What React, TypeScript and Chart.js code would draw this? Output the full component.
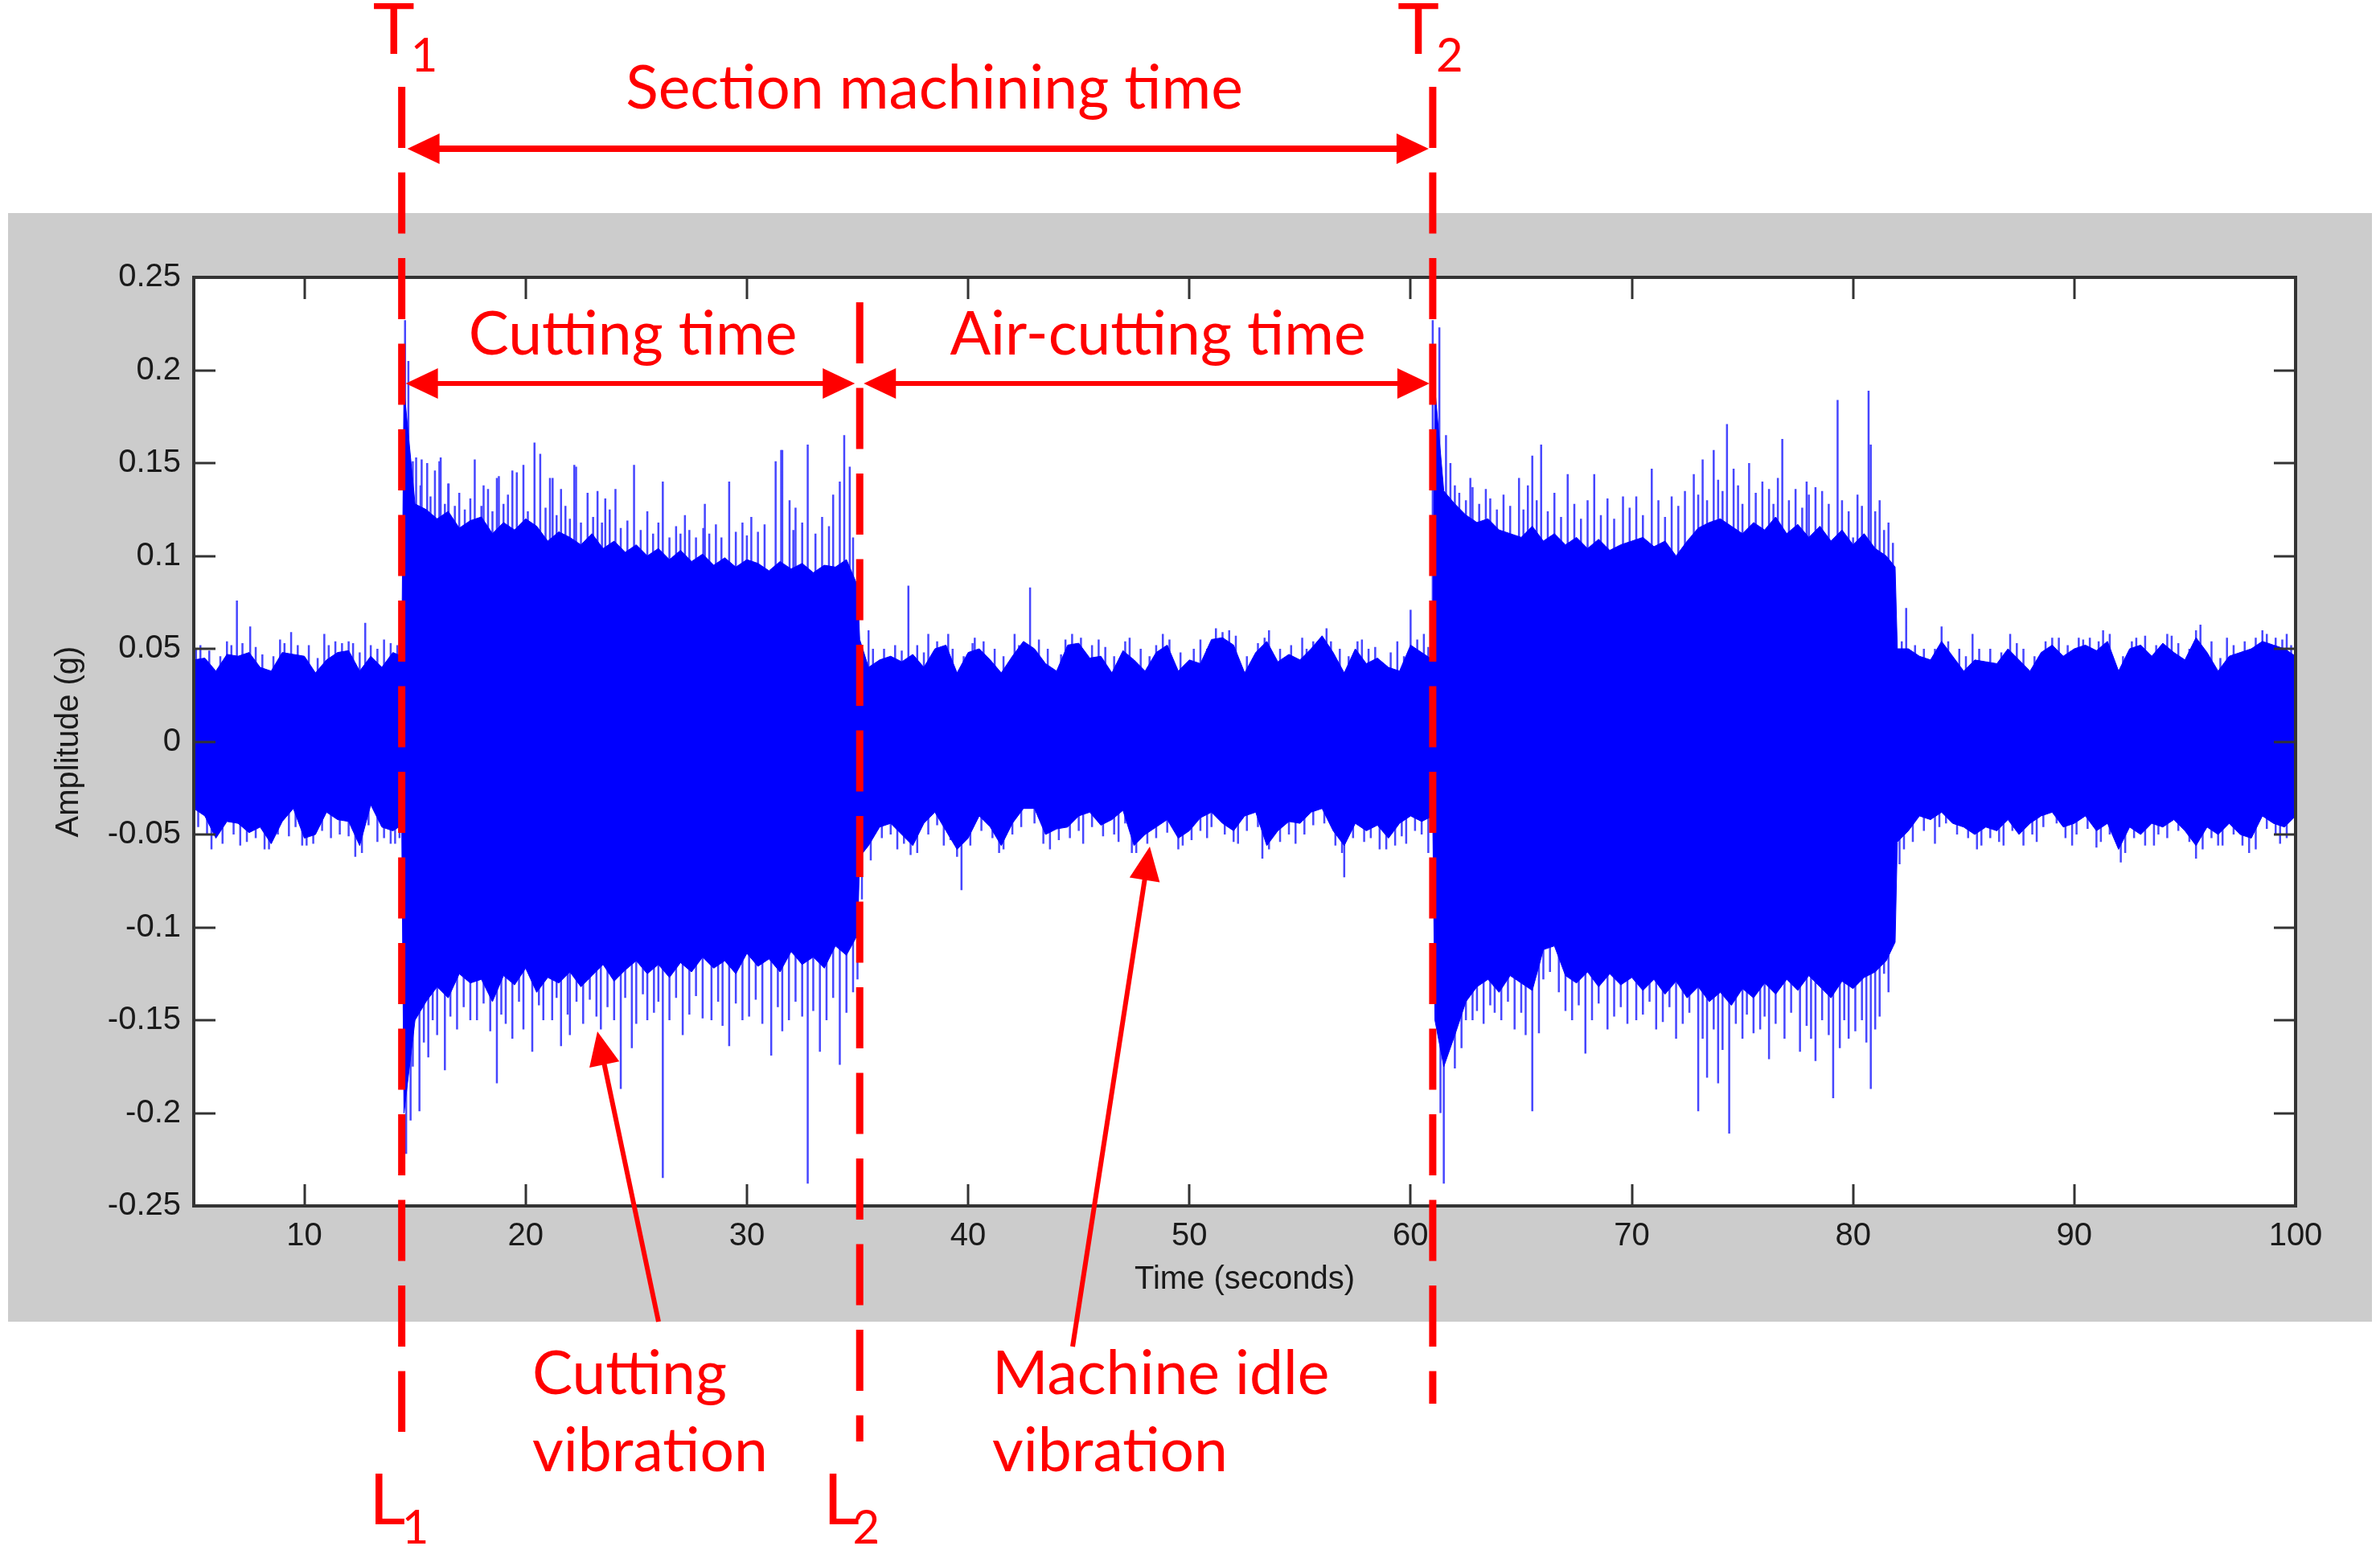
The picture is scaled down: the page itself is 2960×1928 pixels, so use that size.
import React, { useEffect, useRef } from "react";
import { Chart, registerables } from "chart.js";

Chart.register(...registerables);

// ---------- axis ticks ----------
const xTickValues = [10, 20, 30, 40, 50, 60, 70, 80, 90, 100];
const xTickLabels = ["10", "20", "30", "40", "50", "60", "70", "80", "90", "100"];
const yTickValues = [-0.25, -0.2, -0.15, -0.1, -0.05, 0, 0.05, 0.1, 0.15, 0.2, 0.25];
const yTickLabels = ["-0.25", "-0.2", "-0.15", "-0.1", "-0.05", "0", "0.05", "0.1", "0.15", "0.2", "0.25"];

// ---------- vibration signal: dense core envelope (seconds, g) ----------
const coreTimes = [
  5, 5.5, 6, 6.5, 7, 7.5, 8, 8.5, 9, 9.5, 10, 10.5, 11, 11.5, 12, 12.5, 13, 13.5, 14, 14.4,
  14.5, 15, 15.5, 16, 16.5, 17, 17.5, 18, 18.5, 19, 19.5, 20, 20.5, 21, 21.5, 22, 22.5, 23, 23.5, 24,
  24.5, 25, 25.5, 26, 26.5, 27, 27.5, 28, 28.5, 29, 29.5, 30, 30.5, 31, 31.5, 32, 32.5, 33, 33.5, 34,
  34.5, 35,
  35.1, 35.5, 36, 36.5, 37, 37.5, 38, 38.5, 39, 39.5, 40, 40.5, 41, 41.5, 42, 42.5, 43, 43.5, 44, 44.5,
  45, 45.5, 46, 46.5, 47, 47.5, 48, 48.5, 49, 49.5, 50, 50.5, 51, 51.5, 52, 52.5, 53, 53.5, 54, 54.5,
  55, 55.5, 56, 56.5, 57, 57.5, 58, 58.5, 59, 59.5, 60, 60.5, 61,
  61.1, 61.5, 62, 62.5, 63, 63.5, 64, 64.5, 65, 65.5, 66, 66.5, 67, 67.5, 68, 68.5, 69, 69.5, 70, 70.5,
  71, 71.5, 72, 72.5, 73, 73.5, 74, 74.5, 75, 75.5, 76, 76.5, 77, 77.5, 78, 78.5, 79, 79.5, 80, 80.5,
  81, 81.5, 81.9,
  82, 82.5, 83, 83.5, 84, 84.5, 85, 85.5, 86, 86.5, 87, 87.5, 88, 88.5, 89, 89.5, 90, 90.5, 91, 91.5,
  92, 92.5, 93, 93.5, 94, 94.5, 95, 95.5, 96, 96.5, 97, 97.5, 98, 98.5, 99, 99.5, 100,
];
const coreUpper = [
  0.044, 0.045, 0.038, 0.047, 0.046, 0.048, 0.040, 0.038, 0.048, 0.047, 0.046, 0.037, 0.044, 0.048, 0.049, 0.038, 0.046, 0.040, 0.048, 0.046,
  0.190, 0.128, 0.125, 0.120, 0.124, 0.115, 0.119, 0.121, 0.112, 0.118, 0.114, 0.120, 0.116, 0.108, 0.113, 0.110, 0.106, 0.112, 0.104, 0.108,
  0.102, 0.106, 0.100, 0.104, 0.098, 0.103, 0.097, 0.101, 0.095, 0.099, 0.094, 0.098, 0.096, 0.092, 0.097, 0.093, 0.096, 0.091, 0.095, 0.094,
  0.098, 0.084,
  0.055, 0.040, 0.044, 0.046, 0.043, 0.047, 0.040, 0.050, 0.052, 0.037, 0.048, 0.050, 0.044, 0.037, 0.046, 0.054, 0.050, 0.042, 0.038, 0.052,
  0.053, 0.045, 0.046, 0.037, 0.049, 0.044, 0.038, 0.048, 0.052, 0.038, 0.044, 0.042, 0.055, 0.056, 0.052, 0.037, 0.048, 0.054, 0.043, 0.047,
  0.044, 0.050, 0.057, 0.048, 0.037, 0.050, 0.042, 0.045, 0.040, 0.038, 0.052, 0.048, 0.044,
  0.190, 0.135, 0.128, 0.122, 0.118, 0.120, 0.114, 0.112, 0.110, 0.116, 0.108, 0.112, 0.106, 0.110, 0.104, 0.109, 0.103, 0.106, 0.108, 0.110,
  0.105, 0.108, 0.100, 0.108, 0.115, 0.118, 0.120, 0.116, 0.112, 0.118, 0.114, 0.121, 0.112, 0.117, 0.110, 0.116, 0.108, 0.114, 0.106, 0.112,
  0.104, 0.100, 0.094,
  0.050, 0.050, 0.046, 0.044, 0.054, 0.046, 0.038, 0.044, 0.043, 0.042, 0.050, 0.044, 0.038, 0.048, 0.052, 0.046, 0.050, 0.052, 0.049, 0.054,
  0.038, 0.050, 0.052, 0.046, 0.053, 0.048, 0.044, 0.056, 0.048, 0.038, 0.046, 0.048, 0.050, 0.054, 0.052, 0.050, 0.046,
];
const coreLower = [
  -0.036, -0.040, -0.052, -0.043, -0.044, -0.049, -0.046, -0.055, -0.043, -0.036, -0.052, -0.050, -0.038, -0.042, -0.043, -0.056, -0.034, -0.046, -0.048, -0.045,
  -0.200, -0.150, -0.140, -0.132, -0.138, -0.125, -0.130, -0.128, -0.140, -0.126, -0.131, -0.122, -0.135, -0.127, -0.130, -0.124, -0.132, -0.126, -0.120, -0.129,
  -0.123, -0.118, -0.125, -0.120, -0.127, -0.119, -0.124, -0.116, -0.122, -0.118, -0.125, -0.114, -0.121, -0.117, -0.124, -0.113, -0.120, -0.116, -0.122, -0.110,
  -0.115, -0.104,
  -0.062, -0.056, -0.046, -0.044, -0.050, -0.056, -0.044, -0.038, -0.048, -0.058, -0.052, -0.040, -0.046, -0.056, -0.044, -0.036, -0.036, -0.050, -0.047, -0.046,
  -0.040, -0.038, -0.045, -0.042, -0.037, -0.056, -0.050, -0.046, -0.042, -0.052, -0.048, -0.041, -0.038, -0.044, -0.048, -0.040, -0.038, -0.056, -0.048, -0.043,
  -0.044, -0.038, -0.036, -0.048, -0.056, -0.044, -0.048, -0.045, -0.052, -0.044, -0.040, -0.043, -0.040,
  -0.150, -0.175, -0.158, -0.140, -0.132, -0.128, -0.135, -0.126, -0.130, -0.134, -0.112, -0.110, -0.126, -0.130, -0.124, -0.132, -0.125, -0.131, -0.127, -0.134,
  -0.128, -0.136, -0.129, -0.138, -0.132, -0.140, -0.135, -0.142, -0.133, -0.138, -0.130, -0.136, -0.128, -0.134, -0.126, -0.132, -0.138, -0.129, -0.133, -0.127,
  -0.124, -0.118, -0.108,
  -0.054, -0.048, -0.040, -0.042, -0.038, -0.044, -0.046, -0.050, -0.046, -0.048, -0.042, -0.050, -0.044, -0.040, -0.038, -0.046, -0.044, -0.040, -0.048, -0.044,
  -0.058, -0.046, -0.050, -0.044, -0.046, -0.042, -0.048, -0.056, -0.046, -0.050, -0.044, -0.050, -0.052, -0.040, -0.044, -0.046, -0.040,
];

// ---------- tall individual peaks ----------
const upSpikeTimes = [
  5.3, 6.5, 6.95, 7.55, 8.9, 9.4, 10.9, 11.4, 12.2, 12.75, 13.6,
  14.55, 14.7, 14.9, 15.3, 15.55, 16.1, 16.5, 17.7, 18.1, 18.7, 19.4, 19.9, 20.4, 21.1, 21.6, 22.2, 22.8, 23.6, 24.9, 25.5, 26.2,
  27.2, 28.1, 29.2, 30.2, 31.3, 31.55, 32.2, 32.75, 33.4, 33.9, 34.4, 34.65,
  35.5, 37.3, 38.2, 39.1, 40.3, 42.1, 42.8, 44.7, 45.9, 47.3, 48.8, 50.5, 51.2, 51.8, 53.6, 55.1, 56.2, 57.8, 59.4, 60.0, 60.6,
  61.0, 61.3, 61.6, 62.2, 62.8, 63.6, 64.9, 65.5, 65.9, 67.1, 68.3, 69.6, 70.9, 71.8, 72.8, 73.2, 73.7, 74.3, 74.6, 75.3, 76.2,
  76.8, 77.9, 78.3, 79.3, 80.0, 80.7, 80.8, 81.4, 81.8,
  82.4, 84.0, 85.4, 87.1, 89.0, 90.2, 91.3, 92.8, 94.2, 95.7, 96.9, 98.5, 99.6,
];
const upSpikeValues = [
  0.052, 0.054, 0.076, 0.062, 0.055, 0.059, 0.058, 0.054, 0.053, 0.064, 0.055,
  0.227, 0.205, 0.151, 0.152, 0.150, 0.151, 0.139, 0.152, 0.138, 0.142, 0.146, 0.149, 0.161, 0.142, 0.136, 0.149, 0.134, 0.131, 0.149, 0.124, 0.140,
  0.122, 0.128, 0.140, 0.121, 0.151, 0.157, 0.126, 0.160, 0.121, 0.133, 0.165, 0.148,
  0.060, 0.084, 0.058, 0.058, 0.056, 0.058, 0.083, 0.058, 0.055, 0.056, 0.058, 0.055, 0.061, 0.060, 0.060, 0.056, 0.061, 0.055, 0.054, 0.071, 0.058,
  0.227, 0.223, 0.165, 0.134, 0.137, 0.131, 0.142, 0.154, 0.160, 0.144, 0.144, 0.132, 0.147, 0.132, 0.144, 0.152, 0.157, 0.171, 0.147, 0.150, 0.136,
  0.163, 0.140, 0.137, 0.184, 0.110, 0.189, 0.160, 0.114, 0.107,
  0.072, 0.062, 0.058, 0.058, 0.056, 0.056, 0.060, 0.056, 0.058, 0.063, 0.056, 0.060, 0.058,
];
const downSpikeTimes = [
  5.8, 7.1, 8.2, 9.9, 11.2, 12.3, 13.3, 14.1,
  14.6, 14.8, 15.2, 15.6, 16.35, 17.5, 18.7, 19.4, 20.3, 21.2, 21.6, 22.0, 23.4, 24.3, 24.8, 25.5, 26.2, 27.1, 28.4, 29.2, 30.1,
  31.1, 31.9, 32.75, 33.3, 34.2, 34.8,
  35.2, 36.8, 37.4, 38.9, 39.7, 41.6, 43.7, 45.2, 46.8, 47.6, 49.5, 50.8, 52.2, 53.3, 54.8, 56.6, 57.0, 58.6, 59.8, 60.8,
  61.35, 61.5, 62.0, 62.5, 63.8, 65.5, 65.8, 67.3, 67.9, 68.9, 70.2, 71.1, 72.0, 73.0, 73.4, 73.9, 74.4, 75.5, 76.2, 77.6, 78.3,
  79.1, 79.8, 80.8, 81.4,
  82.1, 83.7, 85.6, 86.8, 88.3, 89.9, 91.0, 92.1, 93.6, 95.5, 96.7, 97.9, 99.3,
];
const downSpikeValues = [
  -0.058, -0.056, -0.058, -0.056, -0.052, -0.062, -0.054, -0.055,
  -0.222, -0.204, -0.199, -0.170, -0.177, -0.150, -0.184, -0.160, -0.167, -0.150, -0.164, -0.158, -0.155, -0.187, -0.165, -0.150, -0.235, -0.158, -0.150, -0.164, -0.148,
  -0.169, -0.150, -0.238, -0.167, -0.174, -0.135,
  -0.085, -0.058, -0.061, -0.056, -0.080, -0.058, -0.058, -0.055, -0.054, -0.060, -0.058, -0.052, -0.055, -0.063, -0.055, -0.056, -0.073, -0.058, -0.055, -0.060,
  -0.200, -0.238, -0.176, -0.150, -0.146, -0.199, -0.157, -0.150, -0.168, -0.155, -0.150, -0.155, -0.160, -0.199, -0.181, -0.184, -0.211, -0.157, -0.171, -0.167, -0.172,
  -0.192, -0.160, -0.187, -0.125,
  -0.066, -0.055, -0.058, -0.056, -0.054, -0.056, -0.057, -0.065, -0.056, -0.063, -0.056, -0.060, -0.055,
];

// ---------- smaller peaks forming the ragged fringe [seconds, g] ----------
const fringeUp: [number, number][] = [
  [5.1, 0.050], [5.7, 0.049], [6.2, 0.046], [6.7, 0.052], [7.2, 0.053], [7.8, 0.051], [8.1, 0.047], [8.6, 0.046], [9.1, 0.053], [9.7, 0.052],
  [10.2, 0.052], [10.6, 0.045], [11.1, 0.052], [11.7, 0.053], [12.0, 0.054], [12.5, 0.048], [13.0, 0.052], [13.3, 0.050], [13.9, 0.053], [14.2, 0.052],
  [14.73, 0.145], [15.05, 0.153], [15.25, 0.138], [15.7, 0.132], [15.9, 0.146], [16.16, 0.153], [16.35, 0.128], [16.52, 0.139], [16.8, 0.127], [17.0, 0.134],
  [17.25, 0.125], [17.5, 0.131], [18.0, 0.127], [18.3, 0.136], [18.5, 0.124], [18.79, 0.143], [19.0, 0.128], [19.2, 0.133], [19.6, 0.145], [20.1, 0.124],
  [20.66, 0.155], [20.9, 0.126], [21.22, 0.142], [21.4, 0.122], [21.8, 0.127], [22.0, 0.120], [22.28, 0.148], [22.5, 0.118], [23.05, 0.121], [23.25, 0.135],
  [23.45, 0.118], [23.8, 0.125], [24.06, 0.136], [24.3, 0.115], [24.6, 0.119], [25.2, 0.114], [25.76, 0.112], [26.0, 0.118], [26.5, 0.110], [26.8, 0.116],
  [27.0, 0.112], [27.4, 0.114], [27.7, 0.110], [28.03, 0.115], [28.3, 0.112], [28.6, 0.117], [28.85, 0.110], [29.5, 0.113], [29.8, 0.118], [30.0, 0.111],
  [30.5, 0.113], [30.8, 0.117], [31.6, 0.157], [31.93, 0.130], [32.1, 0.114], [32.5, 0.118], [33.1, 0.112], [33.71, 0.116], [34.2, 0.140], [34.8, 0.110],
  [35.7, 0.050], [36.2, 0.050], [36.7, 0.052], [37.0, 0.049], [37.7, 0.052], [38.0, 0.048], [38.6, 0.054], [39.3, 0.050], [39.8, 0.046], [40.2, 0.053],
  [40.7, 0.054], [41.2, 0.050], [41.6, 0.046], [42.3, 0.052], [43.2, 0.055], [43.6, 0.050], [44.2, 0.047], [44.4, 0.055], [45.1, 0.056], [45.6, 0.052],
  [46.2, 0.051], [46.6, 0.046], [47.1, 0.054], [47.8, 0.050], [48.2, 0.046], [48.5, 0.052], [49.1, 0.055], [49.6, 0.048], [50.2, 0.050], [50.8, 0.050],
  [51.5, 0.059], [52.1, 0.057], [52.6, 0.046], [53.1, 0.053], [53.4, 0.056], [54.1, 0.050], [54.6, 0.052], [55.3, 0.050], [55.6, 0.054], [56.4, 0.054],
  [56.8, 0.050], [57.2, 0.046], [57.6, 0.054], [58.1, 0.050], [58.4, 0.051], [59.1, 0.048], [59.7, 0.046], [60.3, 0.055], [60.8, 0.051],
  [61.8, 0.150], [62.0, 0.138], [62.5, 0.130], [62.7, 0.142], [63.1, 0.128], [63.4, 0.136], [63.9, 0.125], [64.2, 0.133], [64.5, 0.127], [65.1, 0.125],
  [65.3, 0.138], [65.7, 0.130], [66.2, 0.124], [66.5, 0.134], [66.8, 0.121], [67.4, 0.128], [67.7, 0.120], [68.0, 0.130], [68.6, 0.122], [68.9, 0.131],
  [69.2, 0.120], [69.9, 0.126], [70.2, 0.132], [70.5, 0.122], [71.2, 0.130], [71.5, 0.121], [72.1, 0.127], [72.4, 0.135], [73.0, 0.133], [73.4, 0.130],
  [73.9, 0.141], [74.1, 0.135], [74.8, 0.138], [75.0, 0.128], [75.6, 0.134], [75.9, 0.140], [76.4, 0.128], [76.6, 0.142], [77.1, 0.130], [77.4, 0.136],
  [77.7, 0.126], [78.0, 0.133], [78.6, 0.135], [78.9, 0.128], [79.5, 0.130], [79.8, 0.124], [80.2, 0.133], [80.4, 0.127], [81.0, 0.124], [81.2, 0.130],
  [81.6, 0.118],
  [82.2, 0.054], [82.8, 0.052], [83.2, 0.050], [83.7, 0.050], [84.3, 0.054], [84.8, 0.050], [85.1, 0.046], [85.7, 0.050], [86.2, 0.050], [86.7, 0.048],
  [87.4, 0.053], [87.7, 0.050], [88.2, 0.046], [88.7, 0.054], [89.3, 0.056], [89.7, 0.052], [90.4, 0.055], [90.7, 0.056], [91.1, 0.054], [91.6, 0.058],
  [92.2, 0.046], [92.6, 0.054], [93.2, 0.057], [93.7, 0.052], [94.4, 0.057], [94.7, 0.053], [95.2, 0.050], [95.5, 0.060], [96.2, 0.054], [96.6, 0.045],
  [97.2, 0.052], [97.7, 0.054], [98.2, 0.056], [98.7, 0.058], [99.1, 0.056], [99.4, 0.055], [99.8, 0.052],
];
const fringeDown: [number, number][] = [
  [5.2, -0.046], [5.6, -0.050], [6.3, -0.055], [6.8, -0.050], [7.4, -0.054], [7.8, -0.052], [8.4, -0.058], [8.8, -0.050], [9.3, -0.051], [9.6, -0.046],
  [10.1, -0.056], [10.4, -0.055], [10.8, -0.048], [11.6, -0.050], [12.0, -0.051], [12.6, -0.060], [12.9, -0.045], [13.6, -0.052], [13.9, -0.055], [14.3, -0.052],
  [14.9, -0.175], [15.4, -0.162], [15.8, -0.150], [16.0, -0.158], [16.6, -0.148], [16.9, -0.155], [17.2, -0.143], [17.8, -0.150], [18.1, -0.141], [18.4, -0.156],
  [18.9, -0.147], [19.1, -0.152], [19.7, -0.140], [19.9, -0.155], [20.6, -0.142], [20.8, -0.150], [21.4, -0.138], [21.9, -0.147], [22.3, -0.140], [22.6, -0.152],
  [22.9, -0.139], [23.2, -0.148], [23.7, -0.143], [24.0, -0.150], [24.5, -0.138], [25.0, -0.152], [25.3, -0.136], [25.8, -0.146], [26.0, -0.140], [26.5, -0.150],
  [26.8, -0.138], [27.4, -0.147], [27.7, -0.137], [28.0, -0.149], [28.7, -0.140], [28.9, -0.153], [29.5, -0.141], [29.8, -0.150], [30.4, -0.139], [30.7, -0.152],
  [31.4, -0.143], [31.6, -0.156], [32.2, -0.140], [32.5, -0.148], [33.0, -0.145], [33.6, -0.150], [33.9, -0.138], [34.5, -0.146], [35.0, -0.128],
  [35.6, -0.064], [36.1, -0.052], [36.5, -0.050], [37.1, -0.055], [37.7, -0.060], [38.2, -0.050], [38.6, -0.045], [39.2, -0.053], [39.5, -0.062], [40.1, -0.056],
  [40.6, -0.048], [41.1, -0.052], [41.4, -0.060], [42.0, -0.050], [42.4, -0.046], [43.0, -0.044], [43.4, -0.055], [44.1, -0.053], [44.6, -0.052], [45.0, -0.048],
  [45.6, -0.046], [46.1, -0.051], [46.6, -0.050], [47.1, -0.044], [47.4, -0.060], [48.1, -0.055], [48.5, -0.052], [49.0, -0.049], [49.7, -0.056], [50.1, -0.053],
  [50.5, -0.048], [51.0, -0.046], [51.6, -0.050], [52.0, -0.054], [52.6, -0.048], [53.1, -0.046], [53.6, -0.058], [54.1, -0.054], [54.5, -0.050], [55.2, -0.050],
  [55.6, -0.045], [56.1, -0.044], [56.9, -0.060], [57.4, -0.052], [57.9, -0.054], [58.2, -0.052], [58.9, -0.058], [59.3, -0.056], [59.6, -0.051], [60.2, -0.048],
  [60.5, -0.050],
  [62.3, -0.165], [62.8, -0.150], [63.0, -0.145], [63.3, -0.152], [63.6, -0.142], [64.1, -0.150], [64.4, -0.140], [64.7, -0.155], [65.0, -0.146], [65.2, -0.158],
  [66.0, -0.128], [66.3, -0.124], [66.7, -0.135], [67.0, -0.145], [67.6, -0.142], [68.2, -0.150], [68.5, -0.141], [69.2, -0.148], [69.5, -0.143], [69.8, -0.152],
  [70.5, -0.147], [70.8, -0.140], [71.4, -0.151], [71.7, -0.143], [72.3, -0.152], [72.6, -0.146], [73.2, -0.160], [73.7, -0.155], [74.1, -0.166], [74.7, -0.152],
  [75.0, -0.160], [75.2, -0.147], [75.8, -0.155], [76.0, -0.148], [76.5, -0.152], [76.9, -0.160], [77.2, -0.146], [77.9, -0.153], [78.1, -0.160], [78.6, -0.150],
  [78.9, -0.158], [79.4, -0.165], [79.6, -0.150], [80.1, -0.156], [80.4, -0.150], [80.6, -0.162], [81.0, -0.155], [81.2, -0.148], [81.6, -0.135],
  [82.3, -0.058], [82.7, -0.054], [83.2, -0.048], [83.9, -0.046], [84.2, -0.044], [84.7, -0.050], [85.2, -0.052], [85.8, -0.056], [86.2, -0.052], [86.6, -0.054],
  [87.2, -0.048], [87.7, -0.056], [88.1, -0.050], [88.6, -0.046], [89.2, -0.044], [89.6, -0.052], [90.1, -0.050], [90.6, -0.047], [91.2, -0.054], [91.6, -0.050],
  [92.3, -0.060], [92.7, -0.052], [93.2, -0.056], [93.8, -0.050], [94.2, -0.052], [94.7, -0.048], [95.2, -0.054], [95.8, -0.058], [96.2, -0.052], [96.5, -0.056],
  [97.2, -0.050], [97.6, -0.056], [98.2, -0.058], [98.7, -0.047], [99.1, -0.050], [99.6, -0.052],
];

// ---------- annotation markers (seconds): T1 / L1, L2, T2 ----------
const markerTimes = [14.4, 35.1, 61.0];

const RED = "#ff0000";
const BLUE = "#0000ff";
const PEAK = "#4646ff";
const ANNOT_FONT = "Lato, 'Open Sans', sans-serif";
const AXIS_FONT = "'Liberation Sans', Arial, sans-serif";

function toPoints(ts: number[], vs: number[]) {
  const n = Math.min(ts.length, vs.length);
  const out: { x: number; y: number }[] = [];
  for (let i = 0; i < n; i++) out.push({ x: ts[i], y: vs[i] });
  return out;
}
function spikePoints(ts: number[], vs: number[]) {
  const n = Math.min(ts.length, vs.length);
  const out: { x: number; y: number | null }[] = [];
  for (let i = 0; i < n; i++) {
    out.push({ x: ts[i], y: 0 }, { x: ts[i], y: vs[i] }, { x: ts[i], y: null });
  }
  return out;
}
function pairSpikes(pairs: [number, number][]) {
  return spikePoints(pairs.map((p) => p[0]), pairs.map((p) => p[1]));
}

function arrowHead(ctx: CanvasRenderingContext2D, tipX: number, tipY: number, fromX: number, fromY: number, len: number, half: number) {
  const a = Math.atan2(tipY - fromY, tipX - fromX);
  const bx = tipX - len * Math.cos(a);
  const by = tipY - len * Math.sin(a);
  ctx.beginPath();
  ctx.moveTo(tipX, tipY);
  ctx.lineTo(bx + half * Math.sin(a), by - half * Math.cos(a));
  ctx.lineTo(bx - half * Math.sin(a), by + half * Math.cos(a));
  ctx.closePath();
  ctx.fill();
}
function line(ctx: CanvasRenderingContext2D, x1: number, y1: number, x2: number, y2: number) {
  ctx.beginPath();
  ctx.moveTo(x1, y1);
  ctx.lineTo(x2, y2);
  ctx.stroke();
}
function doubleArrow(ctx: CanvasRenderingContext2D, xa: number, xb: number, y: number, w: number) {
  ctx.lineWidth = w;
  line(ctx, xa + 30, y, xb - 30, y);
  arrowHead(ctx, xa, y, xb, y, 40, 19);
  arrowHead(ctx, xb, y, xa, y, 40, 19);
}
function pointer(ctx: CanvasRenderingContext2D, x1: number, y1: number, x2: number, y2: number, w: number) {
  const a = Math.atan2(y2 - y1, x2 - x1);
  ctx.lineWidth = w;
  line(ctx, x1, y1, x2 - 30 * Math.cos(a), y2 - 30 * Math.sin(a));
  arrowHead(ctx, x2, y2, x1, y1, 42, 19);
}
function subLabel(ctx: CanvasRenderingContext2D, main: string, sub: string, mx: number, my: number, sx: number, sy: number) {
  ctx.textAlign = "center";
  ctx.textBaseline = "alphabetic";
  ctx.font = `88px ${ANNOT_FONT}`;
  ctx.fillText(main, mx, my);
  ctx.font = `58px ${ANNOT_FONT}`;
  ctx.fillText(sub, sx, sy);
}

const decorPlugin = {
  id: "decor",
  beforeDraw(chart: any) {
    const ctx: CanvasRenderingContext2D = chart.ctx;
    const { left, top, right, bottom } = chart.chartArea;
    ctx.save();
    ctx.fillStyle = "#ffffff";
    ctx.fillRect(0, 0, chart.width, chart.height);
    ctx.fillStyle = "#cccccc";
    ctx.fillRect(10, 265, 2940, 1379);
    ctx.fillStyle = "#ffffff";
    ctx.fillRect(left, top, right - left, bottom - top);
    ctx.restore();
  },
  afterDatasetsDraw(chart: any) {
    const ctx: CanvasRenderingContext2D = chart.ctx;
    const { left, top, right, bottom } = chart.chartArea;
    const xs = chart.scales.x;
    const ys = chart.scales.y;
    ctx.save();
    ctx.strokeStyle = "#333333";
    ctx.lineWidth = 3;
    const tl = 27;
    xs.ticks.forEach((t: any) => {
      const px = Math.round(xs.getPixelForValue(t.value));
      line(ctx, px, bottom, px, bottom - tl);
      line(ctx, px, top, px, top + tl);
    });
    ys.ticks.forEach((t: any) => {
      const py = Math.round(ys.getPixelForValue(t.value));
      line(ctx, left, py, left + tl, py);
      line(ctx, right, py, right - tl, py);
    });
    ctx.lineWidth = 4;
    ctx.strokeRect(left, top, right - left, bottom - top);
    ctx.restore();
  },
  afterDraw(chart: any) {
    const ctx: CanvasRenderingContext2D = chart.ctx;
    const xs = chart.scales.x;
    const [xT1, xL2, xT2] = markerTimes.map((t) => xs.getPixelForValue(t));
    ctx.save();
    ctx.strokeStyle = RED;
    ctx.fillStyle = RED;
    ctx.lineCap = "butt";

    // dashed time markers
    ctx.lineWidth = 9;
    ctx.setLineDash([76, 30.5]);
    line(ctx, xT1, 108, xT1, 1781);
    line(ctx, xL2, 376, xL2, 1793);
    line(ctx, xT2, 108, xT2, 1746);
    ctx.setLineDash([]);

    // double arrows
    doubleArrow(ctx, xT1 + 7, xT2 - 5, 185, 8);
    doubleArrow(ctx, xT1 + 5, xL2 - 6, 477, 6);
    doubleArrow(ctx, xL2 + 5, xT2 - 4, 477, 6);

    // pointer arrows
    pointer(ctx, 819, 1644, 743, 1283, 6);
    pointer(ctx, 1334, 1675, 1430, 1053, 6);

    // marker labels
    subLabel(ctx, "T", "1", xT1 - 10, 67, xT1 + 28, 89);
    subLabel(ctx, "T", "2", xT2 - 18, 67, xT2 + 21, 89);
    subLabel(ctx, "L", "1", xT1 - 18, 1896, xT1 + 17, 1920);
    subLabel(ctx, "L", "2", xL2 - 23, 1896, xL2 + 8, 1920);

    // captions
    ctx.font = `75px ${ANNOT_FONT}`;
    ctx.textBaseline = "alphabetic";
    ctx.textAlign = "center";
    ctx.fillText("Section machining time", 1162, 135);
    ctx.fillText("Cutting time", 787, 441);
    ctx.fillText("Air-cutting time", 1440, 441);
    ctx.textAlign = "left";
    ctx.fillText("Cutting", 662, 1734);
    ctx.fillText("vibration", 662, 1830);
    ctx.fillText("Machine idle", 1234, 1734);
    ctx.fillText("vibration", 1234, 1830);
    ctx.restore();
  },
};

export default function App() {
  const canvasRef = useRef<HTMLCanvasElement | null>(null);

  useEffect(() => {
    const canvas = canvasRef.current;
    if (!canvas) return;
    const peakStyle = {
      borderColor: PEAK,
      borderWidth: 2.5,
      pointRadius: 0,
      fill: false,
      spanGaps: false,
      order: 1,
    };
    const chart = new Chart(canvas, {
      type: "line",
      data: {
        datasets: [
          {
            label: "upper",
            data: toPoints(coreTimes, coreUpper),
            borderColor: BLUE,
            borderWidth: 1,
            backgroundColor: BLUE,
            fill: "+1",
            pointRadius: 0,
            tension: 0,
            order: 0,
          },
          {
            label: "lower",
            data: toPoints(coreTimes, coreLower),
            borderColor: BLUE,
            borderWidth: 1,
            backgroundColor: BLUE,
            fill: false,
            pointRadius: 0,
            tension: 0,
            order: 0,
          },
          { label: "peaks up", data: spikePoints(upSpikeTimes, upSpikeValues) as any, ...peakStyle },
          { label: "peaks down", data: spikePoints(downSpikeTimes, downSpikeValues) as any, ...peakStyle },
          { label: "fringe up", data: pairSpikes(fringeUp) as any, ...peakStyle },
          { label: "fringe down", data: pairSpikes(fringeDown) as any, ...peakStyle },
        ],
      },
      options: {
        responsive: false,
        maintainAspectRatio: false,
        devicePixelRatio: 1,
        animation: false,
        events: [],
        layout: { padding: { left: 0, top: 345, right: 105, bottom: 0 } },
        plugins: { legend: { display: false }, tooltip: { enabled: false } },
        scales: {
          x: {
            type: "linear",
            min: 5,
            max: 100,
            grid: { display: false, drawTicks: false },
            border: { display: false },
            afterBuildTicks: (axis: any) => {
              axis.ticks = xTickValues.map((v) => ({ value: v }));
            },
            afterFit: (axis: any) => {
              axis.height = 428;
            },
            ticks: {
              autoSkip: false,
              maxRotation: 0,
              minRotation: 0,
              padding: 14,
              color: "#1a1a1a",
              font: { family: AXIS_FONT, size: 40 },
              callback: (_v: any, i: number) => xTickLabels[i],
            },
            title: {
              display: true,
              text: "Time (seconds)",
              color: "#1a1a1a",
              font: { family: AXIS_FONT, size: 40 },
              padding: { top: 0, bottom: 312 },
            },
          },
          y: {
            type: "linear",
            min: -0.25,
            max: 0.25,
            grid: { display: false, drawTicks: false },
            border: { display: false },
            afterBuildTicks: (axis: any) => {
              axis.ticks = yTickValues.map((v) => ({ value: v }));
            },
            afterFit: (axis: any) => {
              axis.width = 241;
            },
            ticks: {
              autoSkip: false,
              padding: 16,
              color: "#1a1a1a",
              font: { family: AXIS_FONT, size: 40 },
              callback: (_v: any, i: number) => yTickLabels[i],
            },
            title: {
              display: true,
              text: "Amplitude (g)",
              color: "#1a1a1a",
              font: { family: AXIS_FONT, size: 40 },
              padding: { top: 62, bottom: 0 },
            },
          },
        },
      },
      plugins: [decorPlugin],
    });
    return () => chart.destroy();
  }, []);

  return (
    <div style={{ position: "fixed", left: 0, top: 0, width: 2960, height: 1928, background: "#ffffff" }}>
      <canvas ref={canvasRef} width={2960} height={1928} style={{ display: "block", width: 2960, height: 1928 }} />
    </div>
  );
}
